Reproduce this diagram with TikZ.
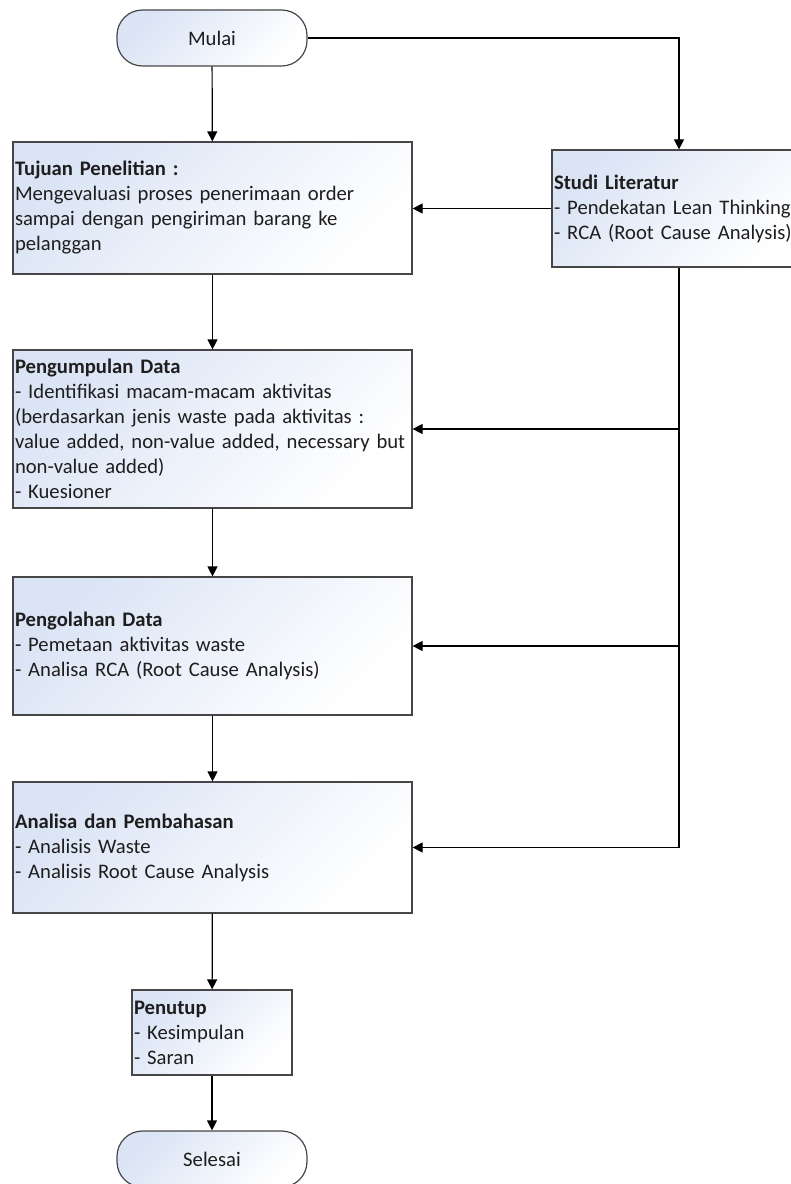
\documentclass[tikz,border=0pt]{standalone}
\usepackage{fontspec}
\setmainfont{Carlito}
\usetikzlibrary{calc,positioning,arrows.meta,shapes.misc}
\definecolor{boxblue}{RGB}{218,228,245}
\definecolor{edgegray}{RGB}{70,70,70}
\definecolor{textgray}{RGB}{30,30,30}
\tikzstyle{process}   = [rectangle, draw=edgegray, line width=0.9pt, top color=boxblue, bottom color=white, shading angle=45, align=left, inner xsep=1.5pt, inner ysep=0pt, text=textgray, font=\fontsize{15.5}{18.75}\selectfont]
\tikzstyle{startstop} = [rectangle, rounded corners=19pt, draw=edgegray, line width=0.9pt, top color=boxblue, bottom color=white, shading angle=45, minimum width=142.5pt, minimum height=42pt, text=textgray, font=\fontsize{15.5}{18.75}\selectfont]
\tikzstyle{arrow}     = [line width=0.9pt, -{Triangle[length=7.5pt,width=7.5pt]}]
\tikzstyle{flowline}  = [line width=0.9pt]

\begin{document}
\begin{tikzpicture}[x=0.75pt,y=-0.75pt]
        \clip (0,0) rectangle (791,1184);

        % terminators
        \node[startstop] (mulai) at (212,38) {Mulai};
        \node[startstop] (selesai) at (212,1159) {Selesai};

        % process boxes
        \node[process, text width=296.25pt, minimum height=99pt] (tujuan) at (212.5,208)
            {\textbf{Tujuan Penelitian :}\\Mengevaluasi proses penerimaan order\\sampai dengan pengiriman barang ke\\pelanggan};
        \node[process, text width=187.5pt, minimum height=87.75pt] (studi) at (679,208.5)
            {\textbf{Studi Literatur}\\- Pendekatan Lean Thinking\\- RCA (Root Cause Analysis)};
        \node[process, text width=296.25pt, minimum height=118.5pt] (kumpul) at (212.5,429)
            {\textbf{Pengumpulan Data}\\- Identifikasi macam-macam aktivitas\\(berdasarkan jenis waste pada aktivitas :\\value added, non-value added, necessary but\\non-value added)\\- Kuesioner};
        \node[process, text width=296.25pt, minimum height=103.5pt] (olah) at (212.5,646)
            {\textbf{Pengolahan Data}\\- Pemetaan aktivitas waste\\- Analisa RCA (Root Cause Analysis)};
        \node[process, text width=296.25pt, minimum height=98.25pt] (analisa) at (212.5,847.5)
            {\textbf{Analisa dan Pembahasan}\\- Analisis Waste\\- Analisis Root Cause Analysis};
        \node[process, text width=117pt, minimum height=63.75pt] (tutup) at (212,1032.5)
            {\textbf{Penutup}\\- Kesimpulan\\- Saran};

        % main flow
        \draw[arrow] (mulai) -- (tujuan);
        \draw[arrow] (tujuan) -- (kumpul);
        \draw[arrow] (kumpul) -- (olah);
        \draw[arrow] (olah) -- (analisa);
        \draw[arrow] (analisa) -- (tutup);
        \draw[arrow] (tutup) -- (selesai);

        % literature branch
        \draw[arrow] (mulai.east) -| (studi.north);
        \draw[arrow] (studi.west) -- (studi.west -| tujuan.east);
        \draw[flowline] (studi.south) -- (studi.south |- analisa.east);
        \draw[arrow] (studi.south |- kumpul.east) -- (kumpul.east);
        \draw[arrow] (studi.south |- olah.east) -- (olah.east);
        \draw[arrow] (studi.south |- analisa.east) -- (analisa.east);
    \end{tikzpicture}
\end{document}
